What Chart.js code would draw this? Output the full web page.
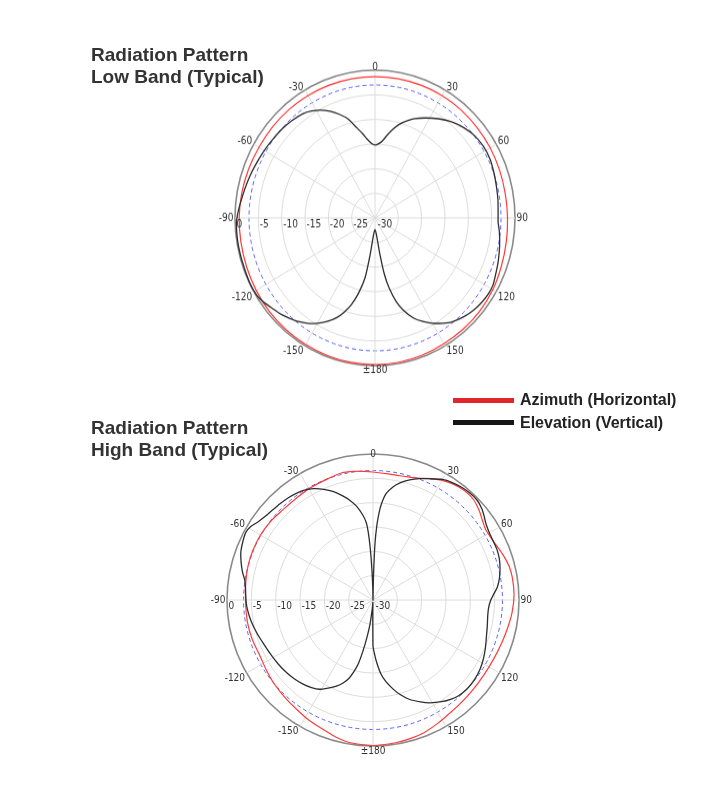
<!DOCTYPE html>
<html><head><meta charset="utf-8">
<script src="https://cdn.jsdelivr.net/npm/chart.js@4.4.0/dist/chart.umd.min.js"></script>
<style>
html,body{margin:0;padding:0;background:#fff;}
body{width:717px;height:797px;position:relative;overflow:hidden;font-family:"Liberation Sans",Arial,Helvetica,sans-serif;}
.title{position:absolute;left:91px;font-weight:bold;font-size:19px;line-height:22px;color:#333;white-space:nowrap;}
.box{position:absolute;transform-origin:0 0;}
.leg-bar{position:absolute;left:453px;width:61px;height:5px;}
.leg-txt{position:absolute;left:520px;font-weight:bold;font-size:16px;line-height:16px;color:#222;white-space:nowrap;}
</style></head>
<body>
<div class="box" style="left:195px;top:28px;width:360px;height:360px;transform:scaleY(1.055)"><canvas id="c1"></canvas></div>
<div class="box" style="left:187px;top:414px;width:372px;height:372px;"><canvas id="c2"></canvas></div>
<div class="title" style="top:44px">Radiation Pattern<br>Low Band (Typical)</div>
<div class="title" style="top:417px">Radiation Pattern<br>High Band (Typical)</div>
<div class="leg-bar" style="top:398px;background:#e3262c"></div>
<div class="leg-bar" style="top:419.5px;background:#161616"></div>
<div class="leg-txt" style="top:392px">Azimuth (Horizontal)</div>
<div class="leg-txt" style="top:415px">Elevation (Vertical)</div>
<script>
// ---- axis text ----
const angleLabelAngles = [0,30,60,90,120,150,180,210,240,270,300,330];
const angleLabelTexts  = ['0','30','60','90','120','150','±180','-150','-120','-90','-60','-30'];
const radialTickValues = [0,-5,-10,-15,-20,-25,-30];
const radialTickLabels = ['0','-5','-10','-15','-20','-25','-30'];

// ---- Low band (dB vs angle in degrees) ----
const lowAzAngles = [0,10,20,30,40,50,60,70,80,90,100,110,120,130,140,150,160,170,180,-170,-160,-150,-140,-130,-120,-110,-100,-90,-80,-70,-60,-50,-40,-30,-20,-10];
const lowAzValues = [-1.3,-1.3,-1.3,-1.3,-1.35,-1.45,-1.5,-1.6,-1.65,-1.6,-1.45,-1.2,-0.85,-0.65,-0.55,-0.5,-0.35,-0.25,-0.2,-0.2,-0.25,-0.3,-0.35,-0.45,-0.6,-0.75,-0.85,-0.9,-1.0,-1.15,-1.3,-1.3,-1.3,-1.3,-1.3,-1.3];
const lowElAngles = [0,3,6,9,12,15,19,23,28,34,40,46,52,58,64,70,76,82,88,92,96,102,108,113,118,122,127,132,137,142,146,150,154,158,162,165,168,170,172,174,176,178,180,-178,-176,-174,-172,-170,-167,-164,-161,-158,-154,-150,-146,-142,-138,-134,-130,-126,-122,-116,-110,-104,-98,-92,-88,-84,-78,-72,-66,-60,-54,-48,-42,-36,-32,-28,-24,-20,-16,-12,-9,-6,-3];
const lowElValues = [-15.2,-14.9,-14.2,-12.9,-11.6,-10.4,-9.2,-8.1,-7.0,-5.7,-4.5,-3.6,-2.9,-2.6,-2.6,-2.9,-3.2,-3.4,-3.6,-3.6,-3.2,-2.7,-2.2,-1.8,-1.3,-1.2,-1.4,-1.8,-2.4,-3.2,-4.2,-5.3,-6.6,-8.1,-10.3,-12.4,-15.5,-18.3,-22.8,-26.0,-27.0,-27.4,-27.6,-27.4,-27.0,-26.0,-22.3,-17.6,-14.3,-11.7,-9.8,-8.2,-6.6,-5.3,-4.2,-3.3,-2.6,-1.9,-1.35,-0.7,-0.2,-0.1,-0.2,-0.2,-0.2,-0.3,-0.6,-1.0,-1.5,-1.9,-2.3,-2.6,-2.9,-3.1,-3.4,-3.8,-4.4,-5.2,-6.3,-7.6,-9.1,-11.3,-12.6,-13.9,-14.8];
const lowRefDb = -3.0;

// ---- High band ----
const highAzAngles = [0,7,12,16,21,25,30,35,40,45,50,54,58,62,66,71,76,81,88,95,101,108,116,124,132,139,146,152,159,165,171,180,-171,-165,-159,-152,-145,-138,-130,-123,-116,-108,-100,-90,-82,-75,-68,-60,-52,-45,-37,-29,-20,-14,-8,-4];
const highAzValues = [-3.7,-3.9,-3.9,-3.7,-3.2,-2.5,-1.6,-1.0,-0.7,-0.8,-1.5,-2.2,-2.7,-2.6,-2.3,-1.7,-1.2,-1.0,-1.0,-1.3,-1.7,-2.1,-2.4,-2.5,-2.4,-2.2,-1.9,-1.4,-0.8,-0.5,-0.3,-0.1,-0.3,-0.8,-1.5,-2.0,-2.6,-3.0,-3.4,-3.8,-4.1,-3.9,-3.8,-3.8,-3.6,-3.4,-3.3,-3.3,-3.5,-3.8,-3.8,-3.6,-3.4,-3.1,-3.3,-3.5];
const highElAngles = [0,1,2,3,4,5,7,10,13,17,21,25,30,34,38,42,46,50,53,56,60,64,68,72,76,80,84,87,90,94,98,103,108,113,118,123,128,133,138,142,146,151,155,160,164,167,171,174,177,179,180,-179,-177,-175,-173,-171,-169,-167,-165,-163,-160,-157,-153,-149,-145,-140,-135,-130,-124,-118,-112,-106,-100,-94,-90,-85,-81,-78,-74,-70,-66,-62,-59,-56,-52,-48,-44,-40,-36,-32,-28,-24,-20,-16,-13,-10,-7,-5,-4,-3,-2,-1];
const highElValues = [-30,-26,-18.5,-14.5,-12,-10.2,-8.0,-6.4,-5.3,-4.2,-3.3,-2.5,-1.4,-0.9,-0.55,-0.35,-0.35,-0.8,-1.4,-2.0,-2.4,-2.5,-2.5,-2.7,-3.1,-3.6,-4.3,-5.1,-5.8,-6.2,-6.2,-5.9,-5.5,-4.9,-4.3,-3.8,-3.5,-3.4,-3.6,-4.1,-4.8,-5.85,-6.9,-8.3,-9.8,-11.1,-13.0,-14.8,-17.5,-19.5,-20.5,-27.5,-29.5,-28,-25,-22.5,-19.5,-16.5,-14.7,-13.2,-11.8,-10.8,-9.7,-8.6,-8.0,-7.5,-7.1,-6.8,-6.5,-6.2,-5.8,-5.2,-4.6,-4.1,-3.9,-3.7,-3.3,-2.6,-1.8,-1.1,-0.7,-0.4,-0.7,-1.4,-2.0,-2.3,-2.5,-2.7,-3.0,-3.4,-4.1,-5.1,-6.3,-7.8,-9.0,-10.4,-12.3,-14.0,-16,-19.5,-24,-28];
const highRefDb = -3.4;

// 1-degree category axis for the radar scale
const degLabels = Array.from({length: 360}, (_, i) => String(i));
function toSeries(angles, values) {
  const d = new Array(360).fill(null);
  angles.forEach((a, i) => { d[((a % 360) + 360) % 360] = values[i]; });
  return d;
}

const labelPlugin = {
  id: 'polarLabels',
  afterDraw(chart, args, opts) {
    const s = chart.scales.r, ctx = chart.ctx, R = s.drawingArea;
    ctx.save();
    ctx.font = '10px "DejaVu Sans Condensed", "DejaVu Sans", sans-serif';
    ctx.fillStyle = '#333';
    ctx.textBaseline = 'middle';
    angleLabelAngles.forEach((a, k) => {
      const p = s.getPointPosition(a, R);
      const sn = Math.sin(a * Math.PI / 180), cs = Math.cos(a * Math.PI / 180);
      let x = p.x, y = p.y;
      if (Math.abs(sn) < 0.01) {
        ctx.textAlign = 'center';
        y += cs > 0 ? opts.topDy : opts.bottomDy;
      } else {
        ctx.textAlign = sn > 0 ? 'left' : 'right';
        x += sn > 0 ? 1.5 : -1.5;
        y += cs > 0.01 ? -2.5 : (cs < -0.01 ? 5 : 0);
      }
      ctx.fillText(angleLabelTexts[k], x, y);
    });
    ctx.textAlign = 'left';
    ctx.textBaseline = 'top';
    radialTickValues.forEach((v, k) => {
      const d = s.getDistanceFromCenterForValue(v);
      const x = v === s.min ? s.xCenter + 2.5 : s.xCenter - d + 1.5;
      ctx.fillText(radialTickLabels[k], x, s.yCenter + 1);
    });
    ctx.restore();
  }
};

function makeChart(id, azA, azV, elA, elV, refDb, labelOpts) {
  return new Chart(document.getElementById(id), {
    type: 'radar',
    data: {
      labels: degLabels,
      datasets: [
        { label: 'Elevation (Vertical)', data: toSeries(elA, elV), borderColor: '#2e2e2e', borderWidth: 1.3, fill: false, spanGaps: true, tension: 0.2 },
        { label: 'Azimuth (Horizontal)', data: toSeries(azA, azV), borderColor: '#ff3a3a', borderWidth: 1.2, fill: false, spanGaps: true, tension: 0.3 }
      ]
    },
    options: {
      responsive: true, maintainAspectRatio: false, animation: false, events: [],
      layout: { padding: 40 },
      elements: { point: { radius: 0, hoverRadius: 0 }, line: { borderJoinStyle: 'round' } },
      plugins: { legend: { display: false }, tooltip: { enabled: false }, polarLabels: labelOpts },
      scales: {
        r: {
          min: -30, max: 0,
          startAngle: 0,
          ticks: { display: false, stepSize: 5 },
          pointLabels: { display: false },
          grid: {
            circular: true,
            color: c => (c.tick && c.tick.value === refDb) ? '#5a62ff' : (c.tick && c.tick.value === 0 ? '#8a8a8a' : '#dcdcdc'),
            lineWidth: c => (c.tick && c.tick.value === 0) ? 1.6 : 1
          },
          border: { dash: c => (c.tick && c.tick.value === refDb) ? [4, 3] : [] },
          angleLines: { color: '#dcdcdc', lineWidth: c => (c.index % 30 === 0 ? 1 : 0) },
          afterBuildTicks: axis => {
            axis.ticks.push({ value: refDb });
            axis.ticks.sort((a, b) => a.value - b.value);
          }
        }
      }
    },
    plugins: [labelPlugin]
  });
}

makeChart('c1', lowAzAngles, lowAzValues, lowElAngles, lowElValues, lowRefDb, { topDy: -3, bottomDy: 4.5 });
makeChart('c2', highAzAngles, highAzValues, highElAngles, highElValues, highRefDb, { topDy: 0, bottomDy: 5 });
</script>
</body></html>
